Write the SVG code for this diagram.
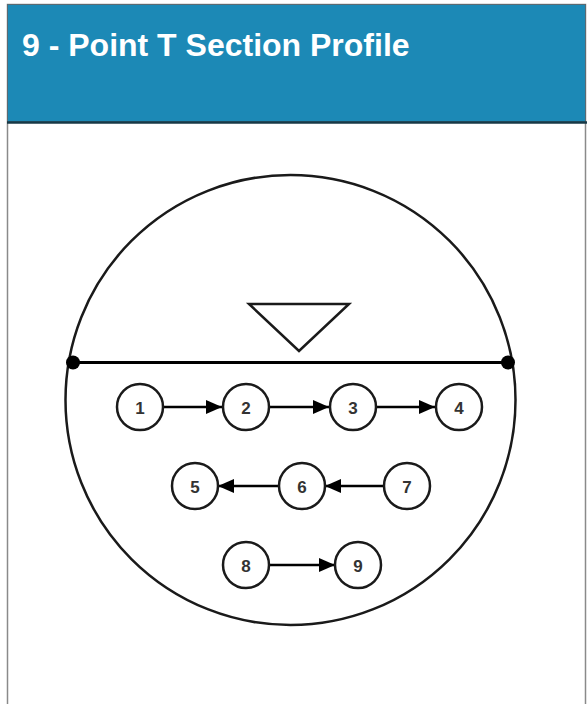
<svg xmlns="http://www.w3.org/2000/svg" width="587" height="704" viewBox="0 0 587 704">
  <defs>
    <style>
      .node circle { fill: #ffffff; stroke: #1a1a1a; stroke-width: 2.5; }
      .node text { font-family: "Liberation Sans", Arial, sans-serif; font-weight: bold; font-size: 17px; fill: #333333; text-anchor: middle; dominant-baseline: central; }
      .conn line { stroke: #000000; stroke-width: 2.5; }
    </style>
    <marker id="arrow" viewBox="0 0 10 10" refX="10" refY="5" markerWidth="6.4" markerHeight="5.6" markerUnits="strokeWidth" orient="auto" preserveAspectRatio="none">
      <path d="M0,0 L10,5 L0,10 Z" fill="#000000"/>
    </marker>
  </defs>
  <rect x="0" y="0" width="587" height="704" fill="#ffffff"/>
  <rect id="frame" x="7.5" y="4.5" width="578" height="710" fill="#ffffff" stroke="#8a8a8a" stroke-width="1.5"/>
  <g id="header">
    <rect x="7.5" y="4.5" width="578" height="117.5" fill="#1c89b6" stroke="#5a6a72" stroke-width="1"/>
    <line x1="7" y1="122.5" x2="587" y2="122.5" stroke="#173846" stroke-width="2.5"/>
    <text x="22" y="56" font-family="Liberation Sans, Arial, sans-serif" font-weight="bold" font-size="32" fill="#ffffff">9 - Point T Section Profile</text>
  </g>
  <g id="section">
    <circle cx="290.5" cy="400" r="225" fill="none" stroke="#1a1a1a" stroke-width="2.5"/>
    <line x1="73" y1="362.5" x2="508" y2="362.5" stroke="#000000" stroke-width="3"/>
    <circle cx="73" cy="362.5" r="7" fill="#000000"/>
    <circle cx="508" cy="362.5" r="7" fill="#000000"/>
    <polygon points="249,304 349,304 299,351" fill="none" stroke="#1a1a1a" stroke-width="2.5" stroke-linejoin="miter"/>
  </g>
  <g id="connectors" class="conn">
    <line x1="163" y1="407" x2="222" y2="407" marker-end="url(#arrow)"/>
    <line x1="269" y1="407" x2="329" y2="407" marker-end="url(#arrow)"/>
    <line x1="376" y1="407" x2="435" y2="407" marker-end="url(#arrow)"/>
    <line x1="384" y1="486" x2="325" y2="486" marker-end="url(#arrow)"/>
    <line x1="279" y1="486" x2="218" y2="486" marker-end="url(#arrow)"/>
    <line x1="269" y1="565" x2="335" y2="565" marker-end="url(#arrow)"/>
  </g>
  <g id="n1" class="node"><circle cx="140" cy="407" r="23"/><text x="140" y="408">1</text></g>
  <g id="n2" class="node"><circle cx="246" cy="407" r="23"/><text x="246" y="408">2</text></g>
  <g id="n3" class="node"><circle cx="353" cy="407" r="23"/><text x="353" y="408">3</text></g>
  <g id="n4" class="node"><circle cx="459" cy="407" r="23"/><text x="459" y="408">4</text></g>
  <g id="n5" class="node"><circle cx="195" cy="486" r="23"/><text x="195" y="487">5</text></g>
  <g id="n6" class="node"><circle cx="302" cy="486" r="23"/><text x="302" y="487">6</text></g>
  <g id="n7" class="node"><circle cx="407" cy="486" r="23"/><text x="407" y="487">7</text></g>
  <g id="n8" class="node"><circle cx="246" cy="565" r="23"/><text x="246" y="566">8</text></g>
  <g id="n9" class="node"><circle cx="358" cy="565" r="23"/><text x="358" y="566">9</text></g>
</svg>
